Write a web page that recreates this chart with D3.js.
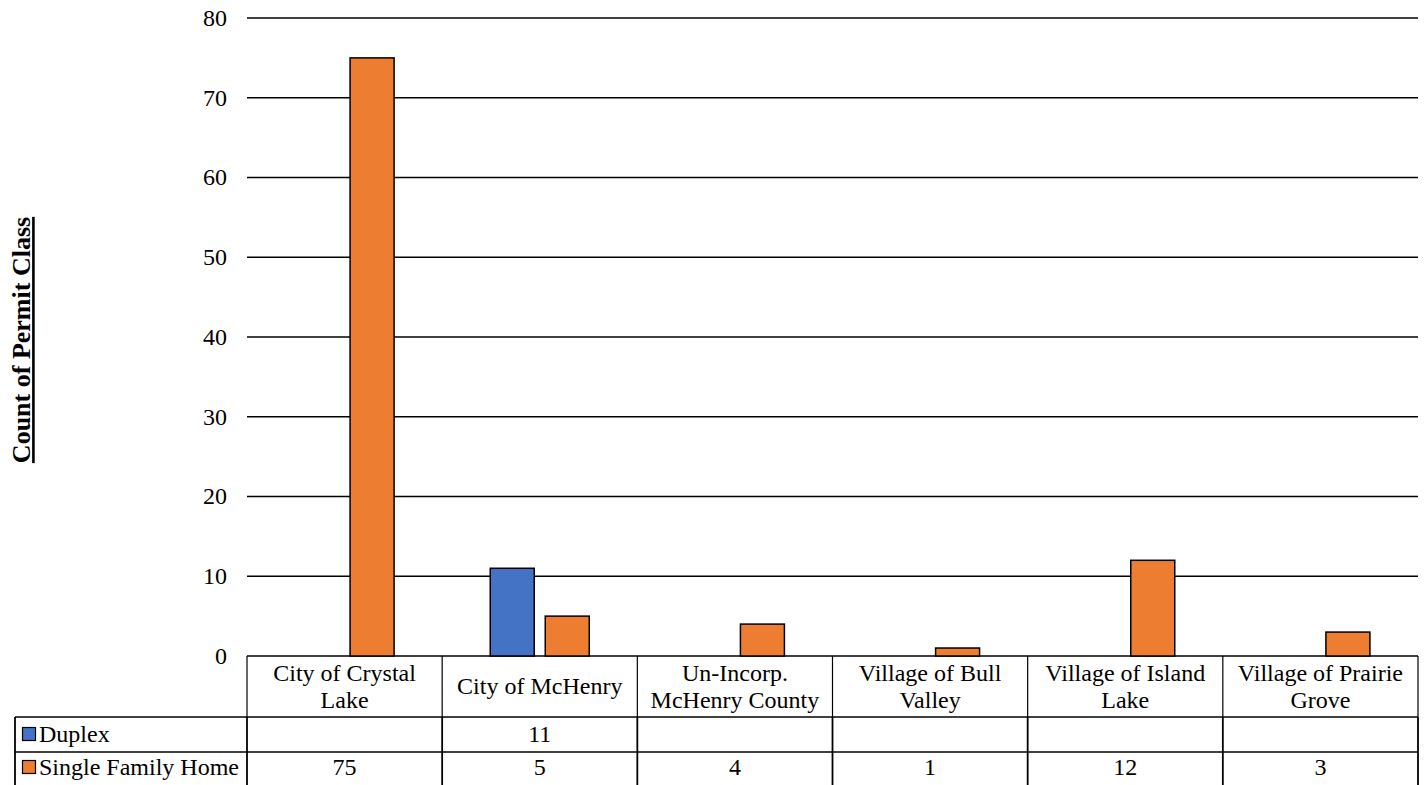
<!DOCTYPE html>
<html>
<head>
<meta charset="utf-8">
<script src="https://cdn.jsdelivr.net/npm/d3@7"></script>
<style>
  body { margin: 0; background: #fff; }
  svg { display: block; }
  svg text { font-family: "Liberation Serif", "DejaVu Serif", serif; }
</style>
</head>
<body>
<svg id="chart" width="1427" height="785"></svg>
<script>
const categories = [
  ["City of Crystal", "Lake"],
  ["City of McHenry"],
  ["Un-Incorp.", "McHenry County"],
  ["Village of Bull", "Valley"],
  ["Village of Island", "Lake"],
  ["Village of Prairie", "Grove"]
];
const categoryKeys = ["City of Crystal Lake", "City of McHenry", "Un-Incorp. McHenry County", "Village of Bull Valley", "Village of Island Lake", "Village of Prairie Grove"];
const seriesNames = ["Duplex", "Single Family Home"];
const duplexValues = [null, 11, null, null, null, null];
const singleFamilyValues = [75, 5, 4, 1, 12, 3];
const yTicks = [0, 10, 20, 30, 40, 50, 60, 70, 80];
const colors = ["#4472C4", "#ED7D31"];
const axisTitle = "Count of Permit Class";

const series = [duplexValues, singleFamilyValues];

(function () {
const FONT = "Liberation Serif, DejaVu Serif, serif";
const FS = 24;
const svg = d3.select("#chart").attr("font-family", FONT);
const pLeft = 247, pRight = 1418, pTop = 18, pBottom = 656;
const tableLeft = 15;
const headerBottom = 717, row1Bottom = 752, row2Bottom = 787;

const x = d3.scaleBand().domain(categoryKeys).range([pLeft, pRight]).padding(0);
const y = d3.scaleLinear().domain([0, 80]).range([pBottom, pTop]);
const bw = x.bandwidth();
const groupW = 99;
const inner = d3.scaleBand().domain(seriesNames).range([(bw - groupW) / 2, (bw + groupW) / 2]).paddingInner(0.2).paddingOuter(0);

svg.append("g").selectAll("line").data(yTicks).join("line")
  .attr("x1", pLeft).attr("x2", pRight)
  .attr("y1", d => y(d)).attr("y2", d => y(d))
  .attr("stroke", "#000").attr("stroke-width", 1.5);

svg.append("g").selectAll("text").data(yTicks).join("text")
  .attr("x", 227).attr("y", d => y(d)).attr("dy", "0.33em")
  .attr("text-anchor", "end").attr("font-size", FS).attr("font-family", FONT).attr("fill", "#000")
  .text(d => d);

series.forEach((vals, si) => {
  svg.append("g").selectAll("rect")
    .data(vals.map((v, i) => ({ v, k: categoryKeys[i] })).filter(d => d.v != null))
    .join("rect")
    .attr("x", d => x(d.k) + inner(seriesNames[si]))
    .attr("width", inner.bandwidth())
    .attr("y", d => y(d.v))
    .attr("height", d => y(0) - y(d.v))
    .attr("fill", colors[si])
    .attr("stroke", "#000").attr("stroke-width", 1.5);
});

svg.append("text")
  .attr("transform", "translate(21,340) rotate(-90)")
  .attr("text-anchor", "middle").attr("dy", "0.35em")
  .attr("font-size", 26).attr("font-weight", "bold").attr("font-family", FONT)
  .attr("text-decoration", "underline")
  .text(axisTitle);

const tg = svg.append("g");
const bounds = categoryKeys.map(k => x(k)).concat([pRight]);
tg.selectAll("line.hv").data(bounds).join("line").attr("class", "hv")
  .attr("x1", d => d).attr("x2", d => d).attr("y1", pBottom).attr("y2", headerBottom)
  .attr("stroke", "#000").attr("stroke-width", 1.2);
tg.selectAll("line.dv").data([tableLeft].concat(bounds)).join("line").attr("class", "dv")
  .attr("x1", d => d).attr("x2", d => d).attr("y1", headerBottom).attr("y2", row2Bottom)
  .attr("stroke", "#000").attr("stroke-width", 1.8);
[headerBottom, row1Bottom].forEach(yy => {
  tg.append("line").attr("x1", tableLeft).attr("x2", pRight).attr("y1", yy).attr("y2", yy)
    .attr("stroke", "#000").attr("stroke-width", 1.5);
});

categories.forEach((lines, i) => {
  const cx = x(categoryKeys[i]) + bw / 2;
  const cy = (pBottom + headerBottom) / 2;
  const lh = 27;
  lines.forEach((ln, j) => {
    tg.append("text")
      .attr("x", cx).attr("y", cy + (j - (lines.length - 1) / 2) * lh)
      .attr("dy", "0.33em").attr("text-anchor", "middle").attr("font-size", FS).attr("font-family", FONT)
      .text(ln);
  });
});

const rowCenters = [734, 767];
series.forEach((vals, si) => {
  const cy = rowCenters[si];
  tg.append("rect").attr("x", 22.5).attr("y", cy - 6.5).attr("width", 13).attr("height", 13)
    .attr("fill", colors[si]).attr("stroke", "#000").attr("stroke-width", 1.2);
  tg.append("text").attr("x", 39).attr("y", cy).attr("dy", "0.33em")
    .attr("font-size", FS).attr("font-family", FONT).text(seriesNames[si]);
  vals.forEach((v, i) => {
    if (v == null) return;
    tg.append("text").attr("x", x(categoryKeys[i]) + bw / 2).attr("y", cy).attr("dy", "0.33em")
      .attr("text-anchor", "middle").attr("font-size", FS).attr("font-family", FONT).text(v);
  });
});
})();
</script>
</body>
</html>
